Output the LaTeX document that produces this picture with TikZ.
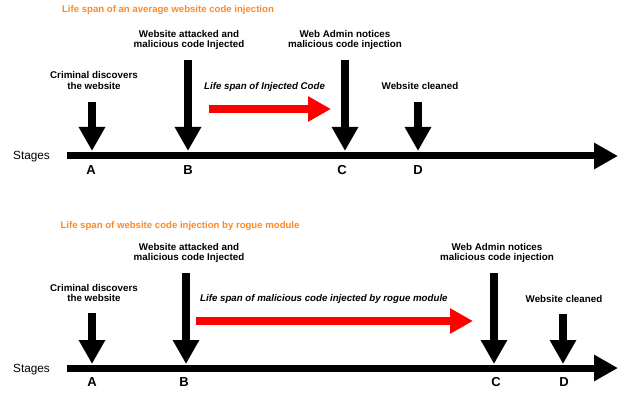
\documentclass[tikz,border=0pt]{standalone}
\usepackage{fontspec}
\setmainfont{Liberation Sans}
\usetikzlibrary{arrows.meta}
\definecolor{ttlorange}{RGB}{255,136,34}
\definecolor{spanred}{RGB}{255,0,0}
\tikzset{
  ttl/.style={font=\bfseries\fontsize{9.6}{11}\selectfont, text=ttlorange, inner sep=0pt},
  lab/.style={font=\bfseries\fontsize{9.8}{10.5}\selectfont, align=center, inner sep=0pt},
  span/.style={font=\bfseries\itshape\fontsize{9.7}{11}\selectfont, anchor=west, inner sep=0pt},
  letter/.style={font=\bfseries\fontsize{13}{14}\selectfont, inner sep=0pt},
  stg/.style={font=\fontsize{11.8}{13}\selectfont, inner sep=0pt},
  downarrow/.style={line width=8.5pt, -{Triangle[length=24pt,width=25pt]}},
  redarrow/.style={draw=spanred, line width=8pt, -{Triangle[length=23pt,width=24pt]}},
  timeline/.style={line width=7pt, -{Triangle[length=24pt,width=25pt]}},
}
\begin{document}
\begin{tikzpicture}[x=1pt,y=-1pt]
\useasboundingbox (0,0) rectangle (640,393);
% ---- top panel ----
\node[ttl] (t1) at (168,10) {Life span of an average website code injection};
\node[lab] (a1l) at (94,80.5) {Criminal discovers\\the website};
\node[lab] (b1l) at (189,40) {Website attacked and\\malicious code Injected};
\node[lab] (c1l) at (345,40) {Web Admin notices\\malicious code injection};
\node[lab] (d1l) at (420,86) {Website cleaned};
\node[span] (s1) at (204,87) {Life span of Injected Code};
\node[stg] (st1) at (31.5,157) {Stages};
\node[letter] (A1) at (91,170) {A};
\node[letter] (B1) at (188,170) {B};
\node[letter] (C1) at (342,170) {C};
\node[letter] (D1) at (418,170) {D};
\coordinate (a1s) at (92,102);  \coordinate (a1e) at (92,151);
\coordinate (b1s) at (188,60);  \coordinate (b1e) at (188,151);
\coordinate (c1s) at (345,60);  \coordinate (c1e) at (345,151);
\coordinate (d1s) at (418,102); \coordinate (d1e) at (418,151);
\coordinate (r1s) at (209,109); \coordinate (r1e) at (331,109);
\coordinate (l1s) at (67,156);  \coordinate (l1e) at (618,156);
\draw[timeline] (l1s) -- (l1e);
\draw[downarrow] (a1s) -- (a1e);
\draw[downarrow] (b1s) -- (b1e);
\draw[downarrow] (c1s) -- (c1e);
\draw[downarrow] (d1s) -- (d1e);
\draw[redarrow] (r1s) -- (r1e);
% ---- bottom panel ----
\node[ttl] (t2) at (180,226) {Life span of website code injection by rogue module};
\node[lab] (a2l) at (94,293) {Criminal discovers\\the website};
\node[lab] (b2l) at (189,253) {Website attacked and\\malicious code Injected};
\node[lab] (c2l) at (497,253) {Web Admin notices\\malicious code injection};
\node[lab] (d2l) at (564,299) {Website cleaned};
\node[span] (s2) at (200,299) {Life span of malicious code injected by rogue module};
\node[stg] (st2) at (31.5,370) {Stages};
\node[letter] (A2) at (92,382) {A};
\node[letter] (B2) at (184,382) {B};
\node[letter] (C2) at (496,382) {C};
\node[letter] (D2) at (564,382) {D};
\coordinate (a2s) at (92,313);  \coordinate (a2e) at (92,364);
\coordinate (b2s) at (186,273); \coordinate (b2e) at (186,364);
\coordinate (c2s) at (494,273); \coordinate (c2e) at (494,364);
\coordinate (d2s) at (563,314); \coordinate (d2e) at (563,364);
\coordinate (r2s) at (196,321); \coordinate (r2e) at (473,321);
\coordinate (l2s) at (67,368);  \coordinate (l2e) at (618,368);
\draw[timeline] (l2s) -- (l2e);
\draw[downarrow] (a2s) -- (a2e);
\draw[downarrow] (b2s) -- (b2e);
\draw[downarrow] (c2s) -- (c2e);
\draw[downarrow] (d2s) -- (d2e);
\draw[redarrow] (r2s) -- (r2e);
\end{tikzpicture}
\end{document}
